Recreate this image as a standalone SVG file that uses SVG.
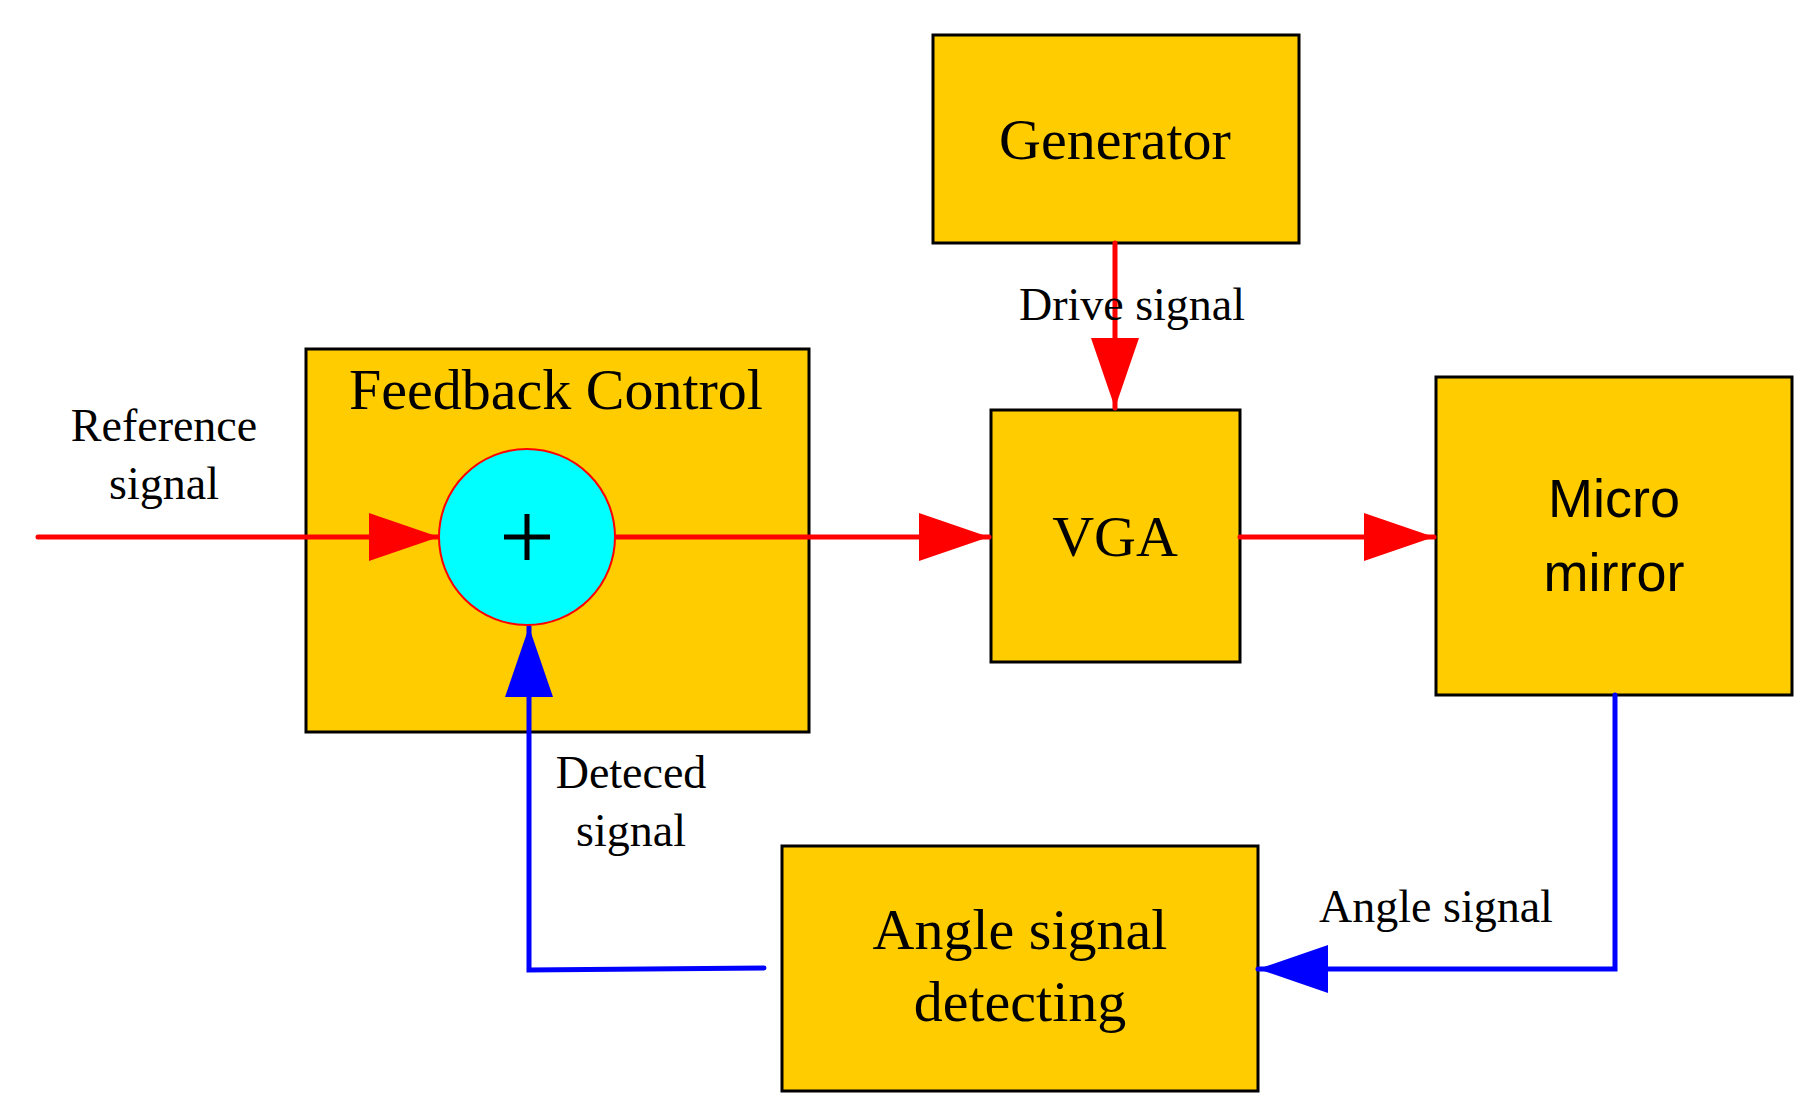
<svg xmlns="http://www.w3.org/2000/svg" width="1820" height="1116" viewBox="0 0 1820 1116">
<defs>
<style>
.box{fill:#ffcc00;stroke:#000;stroke-width:3}
.t{font-family:"Liberation Serif",serif;fill:#000;text-anchor:middle}
.s{font-family:"Liberation Sans",sans-serif;fill:#000;text-anchor:middle}
.r{stroke:#ff0000;stroke-width:5;fill:none;stroke-linecap:round}
.b{stroke:#0000ff;stroke-width:5;fill:none;stroke-linecap:round}
</style>
<marker id="ar" markerUnits="userSpaceOnUse" markerWidth="72" markerHeight="52" refX="70" refY="26" orient="auto"><path d="M0,2 L70,26 L0,50 Z" fill="#ff0000"/></marker>
<marker id="ab" markerUnits="userSpaceOnUse" markerWidth="72" markerHeight="52" refX="70" refY="26" orient="auto"><path d="M0,2 L70,26 L0,50 Z" fill="#0000ff"/></marker>
</defs>
<rect width="1820" height="1116" fill="#fff"/>
<g id="generator"><rect class="box" x="933" y="35" width="366" height="208"/><text class="t" x="1115" y="159" font-size="58">Generator</text></g>
<g id="feedback"><rect class="box" x="306" y="349" width="503" height="383"/><text class="t" x="556" y="409" font-size="58">Feedback Control</text></g>
<g id="vga"><rect class="box" x="991" y="410" width="249" height="252"/><text class="t" x="1115" y="556" font-size="58">VGA</text></g>
<g id="mirror"><rect class="box" x="1436" y="377" width="356" height="318"/><text class="s" x="1614" y="517" font-size="54">Micro</text><text class="s" x="1614" y="591" font-size="54">mirror</text></g>
<g id="angle"><rect class="box" x="782" y="846" width="476" height="245"/><text class="t" x="1020" y="949" font-size="58">Angle signal</text><text class="t" x="1020" y="1021" font-size="58">detecting</text></g>
<g id="connectors">
<path class="r" d="M38,537 H439" marker-end="url(#ar)"/>
<path class="r" d="M615,537 H989" marker-end="url(#ar)"/>
<path class="r" d="M1240,537 H1434" marker-end="url(#ar)"/>
<path class="r" d="M1115,243 V408" marker-end="url(#ar)"/>
<path class="b" d="M1615,695 V969 H1258" marker-end="url(#ab)"/>
<path class="b" d="M764,968 L529,970 V627" marker-end="url(#ab)"/>
</g>
<g id="sum"><circle cx="527" cy="537" r="88" fill="#00ffff" stroke="#ff0000" stroke-width="2"/><path d="M504,537 H550 M527,514 V560" stroke="#000" stroke-width="5"/></g>
<g id="labels">
<text class="t" x="164" y="441" font-size="46">Reference</text><text class="t" x="164" y="499" font-size="46">signal</text>
<text class="t" x="1132" y="320" font-size="46" text-anchor="start">Drive signal</text>
<text class="t" x="1436" y="922" font-size="46">Angle signal</text>
<text class="t" x="631" y="788" font-size="46">Deteced</text><text class="t" x="631" y="846" font-size="46">signal</text>
</g>
</svg>
